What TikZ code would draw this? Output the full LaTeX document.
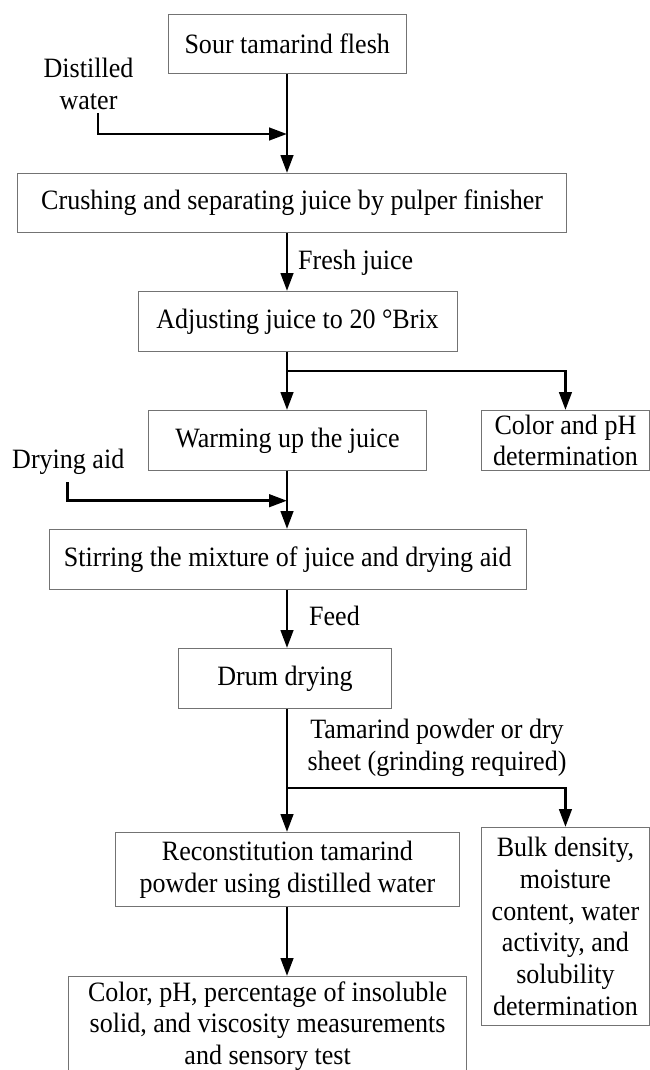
\documentclass[tikz,border=0pt]{standalone}
\usepackage{fontspec}
\setmainfont{Liberation Serif}[FakeStretch=0.93]
\usetikzlibrary{arrows.meta}
\newcommand{\labfont}{\fontsize{28}{31.7}\selectfont}
\tikzset{
  box/.style={draw=black!55, line width=0.9pt, inner sep=0pt, align=center,
    font=\labfont, anchor=north west},
  lab/.style={inner sep=0pt, font=\labfont, align=center},
  flow/.style={line width=2.9pt, line join=miter, -{Triangle[length=18pt,width=12.5pt]}},
}
\begin{document}
\begin{tikzpicture}[x=1pt,y=-1pt]
\useasboundingbox[fill=white] (0,0) rectangle (650,1070);
\coordinate (ax) at (287,0);
% boxes
\node[box, minimum width=238.5pt, minimum height=59pt] (b1) at (167.5,14) {Sour tamarind flesh};
\node[box, minimum width=548.6pt, minimum height=59pt] (b2) at (17.4,173) {Crushing and separating juice by pulper finisher};
\node[box, minimum width=319pt, minimum height=60pt] (b3) at (137.6,291) {Adjusting juice to 20 °Brix};
\node[box, minimum width=278pt, minimum height=60pt] (b4) at (148,410) {Warming up the juice};
\node[box, minimum width=168pt, minimum height=60pt] (b5) at (481,410) {Color and pH\\determination};
\node[box, minimum width=477.5pt, minimum height=60pt] (b6) at (48.5,529) {Stirring the mixture of juice and drying aid};
\node[box, minimum width=213pt, minimum height=60pt] (b7) at (178,648) {Drum drying};
\node[box, minimum width=344pt, minimum height=74pt] (b8) at (115,832) {Reconstitution tamarind\\powder using distilled water};
\node[box, minimum width=168pt, minimum height=198pt] (b9) at (481,827) {Bulk density,\\moisture\\content, water\\activity, and\\solubility\\determination};
\node[box, minimum width=397.6pt, minimum height=99pt] (b10) at (68.4,976) {Color, pH, percentage of insoluble\\solid, and viscosity measurements\\and sensory test};
% labels
\node[lab] (dw) at (88.5,84) {Distilled\\water};
\node[lab, anchor=base west] (fj) at (298,269) {Fresh juice};
\node[lab, anchor=base west] (da) at (12,468) {Drying aid};
\node[lab, anchor=base west] (fd) at (309,625) {Feed};
\node[lab] (tp) at (437,748) {Tamarind powder or dry\\sheet (grinding required)};
% connector points
\coordinate (dws) at (98,113);
\coordinate (dwj) at (287,134);
\coordinate (das) at (67.6,482);
\coordinate (daj) at (287,500.7);
\coordinate (br1) at (287,371);
\coordinate (br2) at (287,788);
% connectors
\draw[flow] (b1.south -| ax) -- (b2.north -| ax);
\draw[flow] (dws) |- (dwj);
\draw[flow] (b2.south -| ax) -- (b3.north -| ax);
\draw[flow] (b3.south -| ax) -- (b4.north -| ax);
\draw[flow] (br1) -| (b5.north);
\draw[flow] (b4.south -| ax) -- (b6.north -| ax);
\draw[flow] (das) |- (daj);
\draw[flow] (b6.south -| ax) -- (b7.north -| ax);
\draw[flow] (b7.south -| ax) -- (b8.north -| ax);
\draw[flow] (br2) -| (b9.north);
\draw[flow] (b8.south -| ax) -- (b10.north -| ax);
\end{tikzpicture}
\end{document}
